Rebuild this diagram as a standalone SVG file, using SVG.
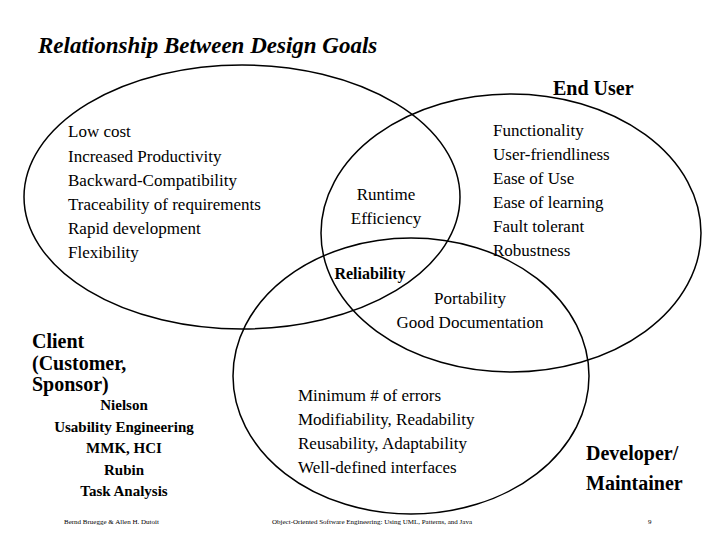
<svg xmlns="http://www.w3.org/2000/svg" width="720" height="540" viewBox="0 0 720 540" font-family="'Liberation Serif', 'DejaVu Serif', serif">
<style>
text{font-family:'Liberation Serif','Times New Roman','DejaVu Serif',serif;fill:#000}
.l{font-size:17px}
.b{font-weight:bold;font-size:20px}
.s{font-weight:bold;font-size:15px}
.f{font-size:7px}
.e{fill:none;stroke:#000;stroke-width:1.5}
</style>
<rect width="720" height="540" fill="#fff"/>
<text x="38" y="53" style="font-size:23px;font-weight:bold;font-style:italic">Relationship Between Design Goals</text>
<g id="connectors"></g>
<g id="client">
<ellipse class="e" cx="242" cy="197" rx="218" ry="132"/>
<text class="l" x="68" y="137">Low cost</text>
<text class="l" x="68" y="162">Increased Productivity</text>
<text class="l" x="68" y="186">Backward-Compatibility</text>
<text class="l" x="68" y="210">Traceability of requirements</text>
<text class="l" x="68" y="234">Rapid development</text>
<text class="l" x="68" y="258">Flexibility</text>
<text class="b" x="32" y="348">Client</text>
<text class="b" x="32" y="370">(Customer,</text>
<text class="b" x="32" y="391">Sponsor)</text>
<g text-anchor="middle">
<text class="s" x="124" y="410">Nielson</text>
<text class="s" x="124" y="432">Usability Engineering</text>
<text class="s" x="124" y="453">MMK, HCI</text>
<text class="s" x="124" y="475">Rubin</text>
<text class="s" x="124" y="496">Task Analysis</text>
</g>
</g>
<g id="enduser">
<ellipse class="e" cx="511" cy="233" rx="190" ry="139"/>
<text class="b" x="553" y="95">End User</text>
<text class="l" x="493" y="136">Functionality</text>
<text class="l" x="493" y="160">User-friendliness</text>
<text class="l" x="493" y="184">Ease of Use</text>
<text class="l" x="493" y="208">Ease of learning</text>
<text class="l" x="493" y="232">Fault tolerant</text>
<text class="l" x="493" y="256">Robustness</text>
</g>
<g id="developer">
<ellipse class="e" cx="411" cy="376" rx="178" ry="138"/>
<text class="l" x="298" y="401">Minimum # of errors</text>
<text class="l" x="298" y="425">Modifiability, Readability</text>
<text class="l" x="298" y="449">Reusability, Adaptability</text>
<text class="l" x="298" y="473">Well-defined interfaces</text>
<text class="b" x="586" y="460">Developer/</text>
<text class="b" x="586" y="490">Maintainer</text>
</g>
<g id="overlaps" text-anchor="middle">
<text class="l" x="386" y="200">Runtime</text>
<text class="l" x="386" y="224">Efficiency</text>
<text class="l" x="470" y="304">Portability</text>
<text class="l" x="470" y="328">Good Documentation</text>
<text x="370" y="279" style="font-size:16px;font-weight:bold">Reliability</text>
</g>
<g id="footer">
<text class="f" x="64" y="524">Bernd Bruegge &amp; Allen H. Dutoit</text>
<text class="f" x="272" y="524">Object-Oriented Software Engineering: Using UML, Patterns, and Java</text>
<text class="f" x="648" y="524">9</text>
</g>
</svg>
